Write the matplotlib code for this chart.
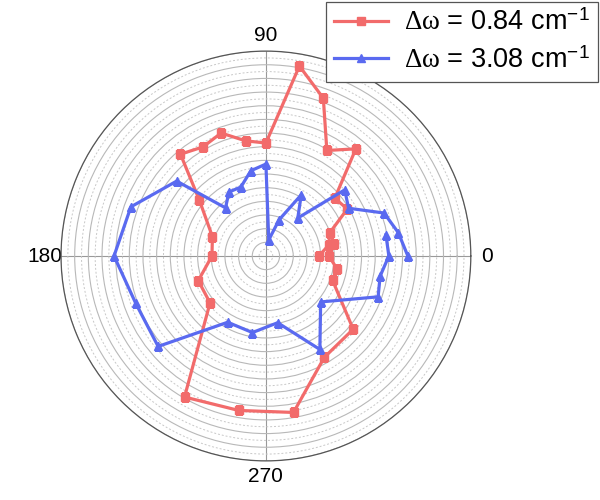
import matplotlib.pyplot as plt
import numpy as np
from matplotlib.ticker import MultipleLocator

plt.rcParams['font.family'] = ['Liberation Sans', 'DejaVu Sans']
plt.rcParams['mathtext.fontset'] = 'custom'
plt.rcParams['mathtext.rm'] = 'Liberation Serif'
plt.rcParams['mathtext.it'] = 'Liberation Serif'
plt.rcParams['mathtext.sf'] = 'Liberation Sans'

# polarization angle (deg) and signal for the two linewidths
angles = [0, 10, 20, 30, 40, 50, 60, 70, 80, 90, 100, 110, 120, 130,
          140, 160, 180, 200, 220, 240, 260, 280, 300, 320, 340, 350, 360, 370]
narrow = [3.88, 4.68, 4.97, 6.88, 6.58, 10.24, 8.92, 12.29, 14.12, 8.27,
          8.56, 9.58, 9.22, 9.73, 6.36, 4.17, 3.95, 5.27, 5.34, 11.92,
          11.48, 11.63, 8.56, 8.34, 5.19, 5.27, 4.61, 5.05]
wide = [10.39, 9.84, 9.20, 6.99, 7.53, 3.63, 5.17, 2.82, 1.19, 6.73,
        6.34, 5.37, 5.41, 4.60, 8.53, 10.52, 11.12, 10.14, 10.30, 5.60,
        5.69, 4.96, 7.90, 5.23, 8.74, 8.49, 9.00, 8.92]
labels = [r'$\Delta\omega$ = 0.84 cm$^{\mathsf{-1}}$',
          r'$\Delta\omega$ = 3.08 cm$^{\mathsf{-1}}$']

fig = plt.figure(figsize=(6, 5), dpi=100)
ax = fig.add_axes([0.1017, 0.078, 0.683, 0.82], projection='polar')

th = np.deg2rad(angles)
ax.plot(th, narrow, color='#f26b6b', lw=2.3, marker='s', ms=5.5, label=labels[0])
ax.plot(th, wide, color='#5a6af0', lw=2.3, marker='^', ms=6, label=labels[1])

ax.set_ylim(0, 15)
ax.yaxis.set_major_locator(MultipleLocator(1))
ax.yaxis.set_minor_locator(MultipleLocator(0.5))
ax.set_yticklabels([])
ax.grid(which='major', axis='y', color='#b8b8b8', lw=0.8, ls='-')
ax.grid(which='minor', axis='y', color='#c8c8c8', lw=0.7, ls=(0, (2, 2)))
ax.tick_params(axis='y', which='both', length=0)

ax.set_thetagrids([0, 90, 180, 270], ['0', '90', '180', '270'], fontsize=15)
ax.grid(axis='x', color='#999999', lw=0.8)
ax.tick_params(axis='x', pad=1)
ax.spines['polar'].set_color('#555555')
ax.spines['polar'].set_linewidth(0.9)

leg = fig.legend(loc='upper right', bbox_to_anchor=(0.997, 0.997), fontsize=19.5,
                 handlelength=2.0, handletextpad=0.6, borderpad=0.3,
                 borderaxespad=0, labelspacing=0.42, fancybox=False,
                 framealpha=1, edgecolor='#555555')
leg.get_frame().set_linewidth(0.9)

fig.savefig('out.png', dpi=100)
